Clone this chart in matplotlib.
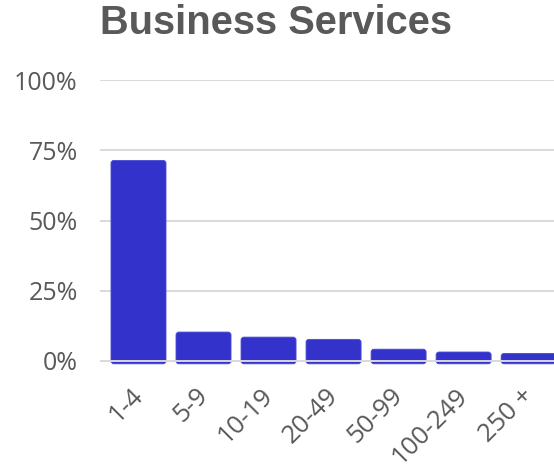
import matplotlib.pyplot as plt
from matplotlib.patches import FancyBboxPatch
from matplotlib.transforms import ScaledTranslation

# share of firms by employee size band
sizes = ['1-4', '5-9', '10-19', '20-49', '50-99', '100-249', '250 +']
share = [71.4, 10.3, 8.5, 7.7, 4.2, 3.2, 2.7]
yticks = [0, 25, 50, 75, 100]

BAR = '#3333CC'
TXT = '#595959'
GRID = '#D9D9D9'

fig = plt.figure(figsize=(5.54, 4.69), dpi=100)
ax = fig.add_axes([0.1805, 0.2183, 0.8195, 0.611])

ax.set_xlim(-0.592, 6.39)
ax.set_ylim(-2, 100)

# plain bars first, then swapped for rounded boxes hanging just under the zero line
drop = 1.0
bars = ax.bar(range(len(sizes)), share, width=0.846, color=BAR)
for b in bars:
    x, y, w, h = b.get_x(), b.get_y(), b.get_width(), b.get_height()
    b.remove()
    box = FancyBboxPatch((x, y - drop), w, h + drop,
                         boxstyle='round,pad=0,rounding_size=0.045',
                         mutation_aspect=23.1, fc=BAR, ec='#4a4ad6', lw=0.6, zorder=2)
    ax.add_patch(box)

for v in yticks[1:]:
    ax.axhline(v, color=GRID, lw=1.4, zorder=1)
ax.axhline(0, color=GRID, lw=1.4, zorder=3)

ax.set_yticks(yticks)
ax.set_yticklabels([str(v) + '%' for v in yticks], fontsize=18,
                   family='Open Sans', color=TXT)
ax.set_xticks(range(len(sizes)))
ax.set_xticklabels(sizes, rotation=45, ha='right', rotation_mode='anchor',
                   fontsize=18.5, family='Open Sans', color=TXT)
ax.tick_params(length=0)
ax.tick_params(axis='y', pad=16)
ax.tick_params(axis='x', pad=12)
shift = ScaledTranslation(-8 / 100, 0, fig.dpi_scale_trans)
for lab in ax.get_xticklabels():
    lab.set_transform(lab.get_transform() + shift)
for s in ax.spines.values():
    s.set_visible(False)

fig.text(0.499, 0.951, 'Business Services', ha='center', va='center',
         fontsize=28.7, fontweight='bold', family='Liberation Sans', color=TXT)

fig.savefig('out.png', dpi=100)
